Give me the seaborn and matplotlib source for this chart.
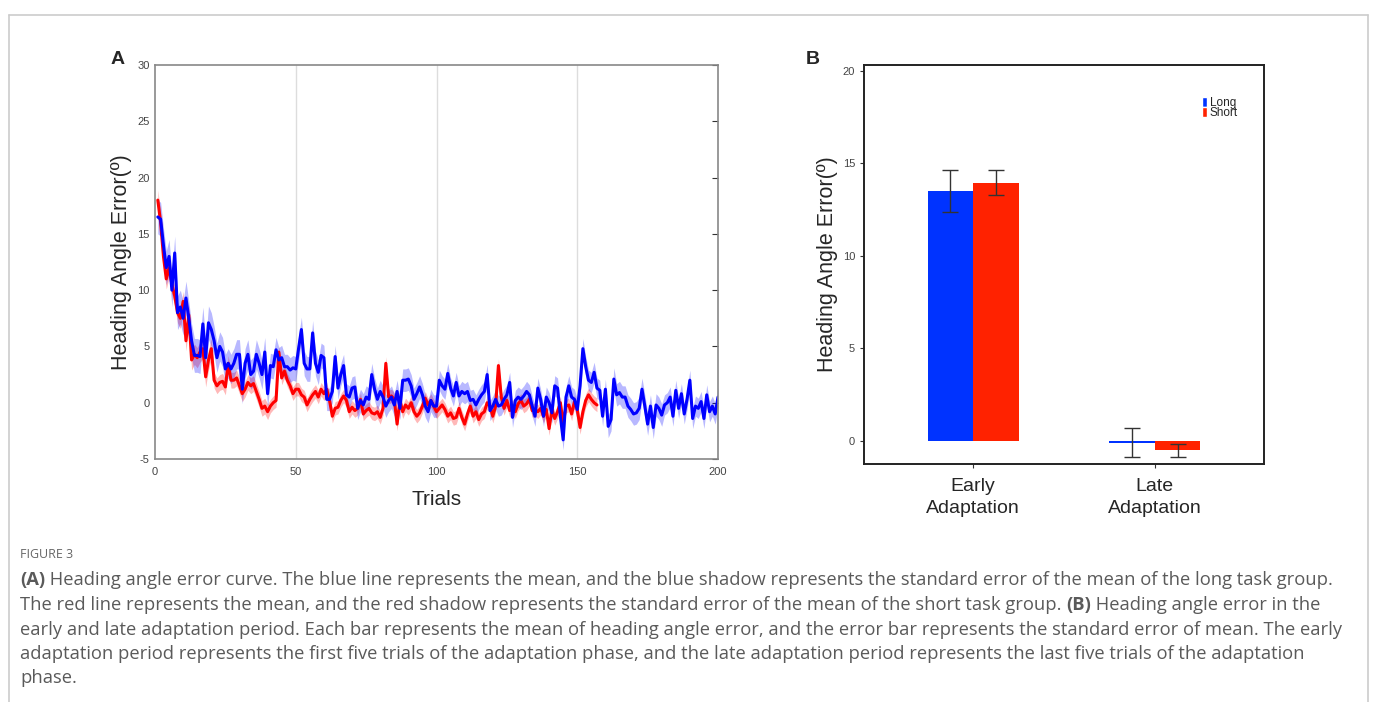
import numpy as np
import pandas as pd
import matplotlib
matplotlib.use("Agg")
import matplotlib.pyplot as plt
import seaborn as sns
from matplotlib.lines import Line2D

# ---- data: panel A (mean heading angle error per trial) ----
long_mean = [16.5, 16.3, 14.0, 12.0, 13.0, 10.0, 13.3, 8.0, 8.5, 7.5,
             9.3, 7.5, 5.5, 4.2, 4.2, 4.1, 7.0, 4.0, 7.1, 6.5,
             5.5, 4.0, 5.0, 4.5, 3.0, 3.5, 3.0, 3.5, 4.3, 4.3,
             1.2, 3.5, 4.3, 2.5, 2.8, 4.3, 3.5, 2.5, 4.5, 0.8,
             3.3, 3.2, 4.7, 3.8, 4.0, 3.2, 3.2, 2.9, 3.1, 3.0,
             4.8, 6.5, 3.5, 3.0, 3.0, 6.2, 3.5, 2.7, 4.2, 4.0,
             0.3, 0.3, 1.0, 4.1, 1.3, 2.5, 3.3, 0.7, 0.5, 1.3,
             1.4, -0.5, 0.2, -0.2, 0.5, 0.3, 2.5, 1.2, 0.3, 1.0,
             0.5, -0.3, 0.2, 0.5, -0.2, 1.0, -0.5, 2.0, 2.0, 2.1,
             1.5, 0.3, 0.8, 1.4, 0.7, -0.3, -0.8, 0.2, -0.3, -0.3,
             2.0, 1.5, 1.2, 2.6, 1.3, 0.6, 1.8, 0.6, 1.0, 0.8,
             1.0, 0.2, 0.3, -0.2, 0.3, 0.7, 1.0, 2.5, -0.7, -0.3,
             0.3, -0.3, -0.2, 0.3, 0.7, 1.8, -1.3, 0.2, 0.5, 0.3,
             0.6, 1.0, 0.7, -0.3, -1.2, 1.3, 0.3, -1.2, 0.5, 0.0,
             -0.9, 1.5, 1.3, -1.2, -3.3, 0.5, 1.5, 0.5, 0.3, -0.6,
             1.5, 4.8, 3.2, 2.0, 1.8, 2.7, 1.3, 1.1, -1.2, 1.2,
             -2.1, -1.5, 2.1, 0.7, 0.9, 0.5, 0.5, -0.3, -0.6, -1.0,
             -0.9, -0.5, 1.2, -0.3, -1.9, -0.3, -2.2, -0.2, -0.5, -1.1,
             -0.2, 0.0, 0.5, -1.2, 1.1, -0.5, 0.8, -1.0, 0.3, 2.0,
             -1.4, -0.3, -0.5, 0.1, -1.4, 0.7, -0.8, -0.3, -1.0, 0.5]

short_mean = [18.0, 16.0, 13.0, 11.0, 12.0, 10.5, 9.5, 8.0, 7.5, 9.0,
              5.5, 7.8, 3.8, 4.3, 4.0, 4.5, 4.8, 2.3, 3.8, 4.8,
              2.0, 1.5, 1.8, 1.9, 1.4, 3.5, 2.0, 2.0, 2.2, 1.5,
              0.8, 1.2, 1.8, 1.5, 1.7, 1.0, 0.3, -0.5, -0.3, -0.8,
              -0.3, 0.0, 0.2, 4.5, 2.2, 2.8, 2.0, 1.5, 0.8, 1.2,
              1.2, 0.7, 0.5, -0.2, 0.3, 0.7, 1.0, 0.5, 1.2, 0.8,
              1.2, 0.2, -1.2, -0.5, -0.4, 0.2, 0.6, 0.2, -0.8, -0.4,
              -0.7, -0.5, 0.3, -1.0, -0.7, -0.5, -0.9, -1.0, -0.8, -1.3,
              -0.5, 3.5, 0.5, 0.6, 0.3, -1.9, 0.2, -0.8, -0.2, -0.5,
              0.0, -0.8, -1.2, -0.9, -0.3, 0.4, -0.2, 0.2, -0.3, -0.8,
              -0.5, -0.2, -0.6, -1.2, -0.9, -1.4, -1.3, -0.5, -1.3, -1.9,
              -1.0, -0.3, -1.2, -0.8, -1.5, -1.0, -0.8, 0.0, -0.3, -1.2,
              -0.3, 3.3, 0.5, -0.5, 0.2, -0.7, -0.3, -0.8, -0.1, 0.2,
              -0.3, -0.1, 0.3, -0.7, -0.6, -0.8, -0.5, -1.2, -0.6, -2.3,
              -0.6, -1.4, -0.8, 0.0, -1.8, -0.3, -0.2, -1.0, 0.1, -0.6,
              -2.2, -0.8, 0.2, 0.7, 0.3, 0.0, -0.2]

long_sem_blocks = [1.5, 1.3, 1.1, 1.0, 1.0, 0.9, 0.9, 0.9, 1.0, 0.9]
short_sem_blocks = [0.9, 0.7, 0.6, 0.6, 0.6, 0.6, 0.6, 0.6]

# ---- data: panel B ----
periods = ["Early\nAdaptation", "Late\nAdaptation"]
groups = ["Long", "Short"]
long_bar = [13.5, -0.1]
short_bar = [13.95, -0.5]
long_err = [1.15, 0.78]
short_err = [0.67, 0.35]

blue = "#0000ff"
red = "#ff0000"

sns.set_style("white")
plt.rcParams["font.family"] = ["Liberation Sans", "DejaVu Sans"]
plt.rcParams["axes.unicode_minus"] = False

W, H = 1375, 702
fig = plt.figure(figsize=(W / 100, H / 100), dpi=100)

def px_axes(x0, y0, x1, y1):
    return fig.add_axes([x0 / W, 1 - y1 / H, (x1 - x0) / W, (y1 - y0) / H])

# outer frame
fc = "#cccccc"
fig.add_artist(Line2D([9 / W, 9 / W], [0, 1 - 15 / H], color=fc, lw=1.2, transform=fig.transFigure))
fig.add_artist(Line2D([1368 / W, 1368 / W], [0, 1 - 15 / H], color=fc, lw=1.2, transform=fig.transFigure))
fig.add_artist(Line2D([9 / W, 1368 / W], [1 - 15 / H, 1 - 15 / H], color=fc, lw=1.2, transform=fig.transFigure))

# ---------------- panel A ----------------
axA = px_axes(155, 65, 718, 459)
t_long = np.arange(1, len(long_mean) + 1)
t_short = np.arange(1, len(short_mean) + 1)
lm = np.array(long_mean)
sm = np.array(short_mean)
l_sem = np.repeat(long_sem_blocks, 20)[: len(lm)]
s_sem = np.repeat(short_sem_blocks, 20)[: len(sm)]

for x in [50, 100, 150]:
    axA.axvline(x, color="#dddddd", lw=1, zorder=0)

axA.fill_between(t_short, sm - s_sem, sm + s_sem, color=red, alpha=0.28, lw=0)
axA.fill_between(t_long, lm - l_sem, lm + l_sem, color=blue, alpha=0.28, lw=0)
sns.lineplot(x=t_short, y=sm, color=red, lw=2.2, ax=axA)
sns.lineplot(x=t_long, y=lm, color=blue, lw=2.2, ax=axA)

axA.set_xlim(0, 200)
axA.set_ylim(-5, 30)
axA.set_xticks([0, 50, 100, 150, 200])
axA.set_yticks([-5, 0, 5, 10, 15, 20, 25, 30])
axA.tick_params(axis="both", labelsize=8, labelcolor="#444444", direction="in",
                length=0, pad=6)
axA.tick_params(axis="y", right=True, length=4, color="#333333", pad=4)
for s in axA.spines.values():
    s.set_color("#888888")
    s.set_linewidth(1.2)
axA.set_xlabel("Trials", fontsize=15, labelpad=9)
axA.set_ylabel("Heading Angle Error(º)", fontsize=15.5, labelpad=4)
fig.text(118 / W, 1 - 59 / H, "A", fontsize=14, fontweight="bold", ha="center", va="center")

# ---------------- panel B ----------------
axB = px_axes(864, 65, 1264, 464)
df = pd.DataFrame({
    "period": periods * 2,
    "group": [groups[0]] * 2 + [groups[1]] * 2,
    "value": long_bar + short_bar,
})
sns.barplot(data=df, x="period", y="value", hue="group", order=periods,
            hue_order=groups, palette=["#0033ff", "#ff2200"], width=0.5,
            errorbar=None, saturation=1, ax=axB)
for cont, errs in zip(axB.containers, [long_err, short_err]):
    for bar, e in zip(cont, errs):
        cx = bar.get_x() + bar.get_width() / 2
        axB.errorbar(cx, bar.get_height(), yerr=e, color="#333333", lw=1,
                     capsize=6, capthick=1)
    for bar in cont:
        bar.set_edgecolor("none")

axB.set_xlim(-0.6, 1.6)
axB.set_ylim(-1.25, 20.3)
axB.set_yticks([0, 5, 10, 15, 20])
axB.tick_params(axis="y", labelsize=8, labelcolor="#444444", length=3,
                direction="out", color="#333333", left=True)
axB.tick_params(axis="x", labelsize=14, length=3, direction="out",
                color="#333333", bottom=True, pad=7)
for lab in axB.get_xticklabels():
    lab.set_linespacing(1.4)
for s in axB.spines.values():
    s.set_color("#222222")
    s.set_linewidth(1.4)
axB.set_xlabel("")
axB.set_ylabel("Heading Angle Error(º)", fontsize=15.5, labelpad=3)
leg = axB.legend(loc="upper right", bbox_to_anchor=(0.95, 0.935), frameon=False,
                 fontsize=8.5, handlelength=0.45, handleheight=0.9,
                 handletextpad=0.25, labelspacing=-0.15, borderpad=0)
fig.text(813 / W, 1 - 59 / H, "B", fontsize=14, fontweight="bold", ha="center", va="center")

# ---------------- caption ----------------
cap_font = ["Open Sans", "DejaVu Sans"]
cap_col = "#5a5a5a"
fig.text(20 / W, 1 - 555 / H, "FIGURE 3", fontsize=9, color="#666666",
         family=cap_font, va="center")

lines = [
    [("(A)", "bold"), (" Heading angle error curve. The blue line represents the mean, and the blue shadow represents the standard error of the mean of the long task group.", "normal")],
    [("The red line represents the mean, and the red shadow represents the standard error of the mean of the short task group. ", "normal"), ("(B)", "bold"), (" Heading angle error in the", "normal")],
    [("early and late adaptation period. Each bar represents the mean of heading angle error, and the error bar represents the standard error of mean. The early", "normal")],
    [("adaptation period represents the first five trials of the adaptation phase, and the late adaptation period represents the last five trials of the adaptation", "normal")],
    [("phase.", "normal")],
]
line_y = [580, 605, 630, 654, 678]
renderer = fig.canvas.get_renderer()
for pieces, y in zip(lines, line_y):
    x = 20
    for txt, wt in pieces:
        t = fig.text(x / W, 1 - y / H, txt, fontsize=13.2, color=cap_col,
                     family=cap_font, fontweight=wt, va="center")
        x += t.get_window_extent(renderer).width

fig.savefig("out.png", dpi=100)
